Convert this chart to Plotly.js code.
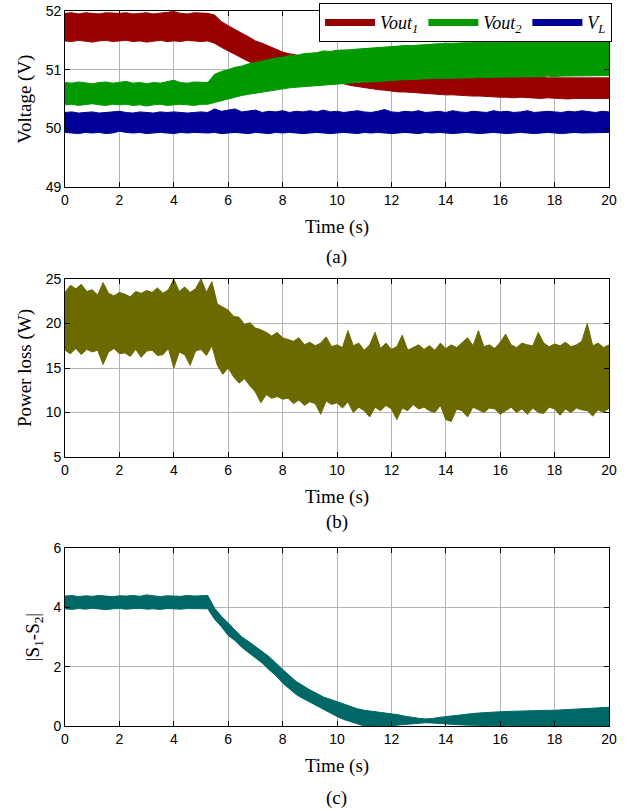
<!DOCTYPE html>
<html>
<head>
<meta charset="utf-8">
<script src="https://cdn.plot.ly/plotly-3.0.1.min.js"></script>
<style>html,body{margin:0;padding:0;background:#fff;}#chart{width:633px;height:809px;}</style>
</head>
<body>
<div id="chart"></div>
<script>
// ---- time grids (s) ----
const tA = [0,0.25,0.5,0.75,1,1.25,1.5,1.75,2,2.25,2.5,2.75,3,3.25,3.5,3.75,4,4.25,4.5,4.75,5,5.25,5.5,5.75,6,6.25,6.5,6.75,7,7.25,7.5,7.75,8,8.25,8.5,8.75,9,9.25,9.5,9.75,10,10.25,10.5,10.75,11,11.25,11.5,11.75,12,12.25,12.5,12.75,13,13.25,13.5,13.75,14,14.25,14.5,14.75,15,15.25,15.5,15.75,16,16.25,16.5,16.75,17,17.25,17.5,17.75,18,18.25,18.5,18.75,19,19.25,19.5,19.75,20];
const tB = [0,0.2,0.4,0.6,0.8,1,1.2,1.4,1.6,1.8,2,2.2,2.4,2.6,2.8,3,3.2,3.4,3.6,3.8,4,4.2,4.4,4.6,4.8,5,5.2,5.4,5.6,5.8,6,6.2,6.4,6.6,6.8,7,7.2,7.4,7.6,7.8,8,8.2,8.4,8.6,8.8,9,9.2,9.4,9.6,9.8,10,10.2,10.4,10.6,10.8,11,11.2,11.4,11.6,11.8,12,12.2,12.4,12.6,12.8,13,13.2,13.4,13.6,13.8,14,14.2,14.4,14.6,14.8,15,15.2,15.4,15.6,15.8,16,16.2,16.4,16.6,16.8,17,17.2,17.4,17.6,17.8,18,18.2,18.4,18.6,18.8,19,19.2,19.4,19.6,19.8,20];

// ---- (a) Voltage envelopes (V), upper / lower edge of each noisy band ----
const vout1Upper = [51.96,51.97,51.95,51.97,51.96,51.95,51.97,51.96,51.96,51.97,51.95,51.96,51.97,51.95,51.96,51.97,51.99,51.96,51.95,51.97,51.96,51.96,51.93,51.82,51.75,51.68,51.62,51.56,51.49,51.45,51.4,51.35,51.3,51.27,51.25,51.22,51.2,51.18,51.17,51.15,51.13,51.1,51.09,51.08,51.06,51.05,51.03,51.02,51.0,50.99,50.97,50.96,50.95,50.94,50.93,50.92,50.92,50.91,50.9,50.9,50.89,50.89,50.88,50.88,50.88,50.88,50.88,50.87,50.87,50.87,50.87,50.86,50.86,50.86,50.86,50.86,50.86,50.86,50.86,50.86,50.86];
const vout1Lower = [51.49,51.48,51.5,51.49,51.47,51.49,51.5,51.48,51.49,51.5,51.48,51.49,51.47,51.49,51.5,51.48,51.49,51.48,51.5,51.49,51.48,51.49,51.45,51.38,51.32,51.25,51.2,51.14,51.09,51.07,51.04,51.0,50.96,50.93,50.9,50.88,50.86,50.85,50.83,50.81,50.79,50.76,50.73,50.71,50.69,50.68,50.66,50.65,50.63,50.62,50.62,50.61,50.6,50.6,50.59,50.58,50.57,50.57,50.56,50.56,50.55,50.55,50.54,50.54,50.53,50.53,50.52,50.53,50.52,50.52,50.51,50.52,50.51,50.51,50.5,50.51,50.51,50.5,50.51,50.51,50.51];
const vout2Upper = [50.78,50.77,50.79,50.78,50.76,50.78,50.79,50.77,50.78,50.8,50.77,50.78,50.76,50.78,50.77,50.79,50.82,50.78,50.77,50.79,50.78,50.78,50.92,50.97,51.0,51.04,51.06,51.1,51.12,51.15,51.17,51.2,51.21,51.24,51.24,51.27,51.28,51.29,51.32,51.31,51.33,51.33,51.34,51.35,51.36,51.37,51.38,51.38,51.39,51.4,51.41,51.41,51.42,51.43,51.44,51.44,51.45,51.45,51.46,51.46,51.46,51.47,51.46,51.47,51.47,51.47,51.48,51.47,51.47,51.48,51.47,51.48,51.47,51.48,51.47,51.47,51.48,51.47,51.47,51.47,51.47];
const vout2Lower = [50.4,50.41,50.39,50.4,50.42,50.4,50.39,50.41,50.4,50.41,50.39,50.4,50.38,50.4,50.41,50.39,50.4,50.41,50.4,50.39,50.41,50.41,50.44,50.47,50.51,50.54,50.56,50.58,50.6,50.62,50.64,50.66,50.67,50.69,50.7,50.71,50.72,50.73,50.74,50.75,50.76,50.76,50.77,50.78,50.79,50.79,50.8,50.81,50.82,50.82,50.83,50.83,50.84,50.84,50.85,50.85,50.85,50.86,50.86,50.86,50.86,50.87,50.86,50.87,50.87,50.87,50.88,50.87,50.88,50.88,50.88,50.89,50.88,50.89,50.89,50.89,50.9,50.89,50.9,50.9,50.9];
const vlUpper = [50.27,50.28,50.26,50.27,50.28,50.26,50.27,50.28,50.29,50.27,50.26,50.28,50.27,50.26,50.28,50.27,50.28,50.27,50.26,50.27,50.28,50.27,50.33,50.29,50.31,50.33,50.28,50.3,50.31,50.27,50.29,50.28,50.3,50.27,50.29,50.28,50.3,50.28,50.31,50.28,50.29,50.27,50.28,50.3,50.28,50.27,50.29,50.32,50.28,50.27,50.29,50.28,50.3,50.27,50.28,50.29,50.27,50.3,50.28,50.27,50.29,50.28,50.27,50.3,50.28,50.29,50.27,50.28,50.3,50.27,50.28,50.29,50.28,50.27,50.29,50.28,50.3,50.28,50.27,50.29,50.28];
const vlLower = [49.93,49.92,49.91,49.93,49.92,49.93,49.91,49.92,49.95,49.93,49.92,49.93,49.91,49.92,49.93,49.92,49.91,49.93,49.92,49.93,49.92,49.92,49.93,49.91,49.92,49.93,49.92,49.91,49.93,49.92,49.91,49.93,49.92,49.93,49.92,49.91,49.92,49.93,49.92,49.91,49.92,49.93,49.92,49.91,49.93,49.92,49.93,49.92,49.91,49.92,49.93,49.92,49.91,49.93,49.92,49.93,49.92,49.91,49.92,49.93,49.92,49.91,49.92,49.93,49.92,49.91,49.92,49.93,49.92,49.91,49.92,49.93,49.92,49.91,49.92,49.93,49.92,49.92,49.93,49.92,49.93];

// ---- (b) Power loss envelope (W) ----
const lossUpper = [23.5,24.3,23.9,24.4,23.6,23.8, 23.2,24.6,23.4,23.1,23.5, 23.3,23.0,23.6,23.4,23.7, 23.5,24.0,23.4,23.8,25.0, 23.6,24.1,23.5,23.9,25.0, 23.5,24.7,22.2,21.8,21.5, 20.8,20.7,19.9,20.1,19.5, 19.3,19.0,18.6,19.0,18.4, 18.2,18.0,18.4,17.6,17.9, 17.5,17.8,18.5,17.4,17.6, 17.3,19.2,17.5,17.8,17.0, 17.6,19.0,17.2,17.8,17.1, 17.4,18.7,17.0,17.3,17.6, 17.1,17.5,17.0,17.8,17.2, 17.6,17.3,17.8,18.4,17.5, 19.2,17.4,17.6,17.2,17.9, 18.8,17.6,17.3,17.8,17.6, 17.5,19.0,17.8,17.4,17.7, 17.5,17.9,17.4,17.6,18.0, 20.0,17.5,17.8,17.3,17.6];
const lossLower = [17.0,16.6,17.2,16.5,17.1,16.8, 17.0,15.4,16.8,17.2,16.6, 16.7,16.3,17.1,16.2,16.9, 17.0,16.4,16.5,17.2,15.0, 16.8,16.5,15.3,16.9,17.1, 16.4,17.5,15.3,14.3,15.0, 14.0,13.3,13.8,13.0,12.3, 11.1,12.0,11.6,11.8,11.5, 11.6,11.0,11.4,10.8,11.2, 11.0,9.8,11.3,10.9,11.1, 10.5,11.2,10.0,10.6,10.2, 9.5,10.6,10.2,10.8,10.4, 9.2,10.5,10.2,10.9,10.4, 10.6,10.2,10.0,10.8,9.2, 9.0,10.4,10.2,9.5,10.6, 10.3,10.0,10.5,10.4,9.8, 10.2,10.6,10.0,10.4,9.8, 10.5,10.0,9.9,10.6,10.4, 9.7,10.4,10.0,10.5,10.3, 10.2,9.6,10.3,10.0,10.5];

// ---- (c) |S1-S2| envelope ----
const sdiffUpper = [4.38,4.4,4.36,4.39,4.37,4.4,4.38,4.36,4.39,4.38,4.4,4.37,4.42,4.38,4.36,4.39,4.38,4.37,4.4,4.38,4.39,4.4,3.97,3.7,3.47,3.25,3.0,2.85,2.67,2.52,2.34,2.12,1.9,1.7,1.5,1.35,1.22,1.1,0.98,0.9,0.82,0.73,0.65,0.58,0.53,0.5,0.46,0.44,0.42,0.38,0.33,0.29,0.26,0.24,0.25,0.29,0.32,0.35,0.38,0.4,0.42,0.44,0.46,0.47,0.48,0.49,0.5,0.5,0.51,0.52,0.52,0.53,0.53,0.54,0.55,0.56,0.57,0.58,0.6,0.62,0.63];
const sdiffLower = [3.95,3.93,3.96,3.94,3.97,3.95,3.92,3.95,3.96,3.94,3.95,3.97,3.94,3.95,3.93,3.96,3.95,3.94,3.96,3.95,3.94,3.95,3.6,3.35,3.05,2.88,2.65,2.47,2.28,2.12,1.9,1.7,1.45,1.25,1.06,0.93,0.81,0.68,0.55,0.43,0.32,0.22,0.14,0.06,0,0,0,0,0.01,0.03,0.05,0.08,0.1,0.11,0.1,0.08,0.06,0.05,0.04,0.03,0.02,0.02,0.01,0.01,0.01,0,0,0,0,0,0,0,0,0,0,0,0,0,0,0,0];

const seriesNames = ['<i>Vout</i><sub><i>1</i></sub>', '<i>Vout</i><sub><i>2</i></sub>', '<i>V</i><sub><i>L</i></sub>'];
const colRed = '#990000', colGreen = '#009900', colBlue = '#000099', colOlive = '#6b6a00', colTeal = '#006767';

function band(x, lo, hi, color, xa, ya) {
  return [
    {x: x, y: lo, xaxis: xa, yaxis: ya, mode: 'lines', line: {color: color, width: 1}, showlegend: false, hoverinfo: 'skip'},
    {x: x, y: hi, xaxis: xa, yaxis: ya, mode: 'lines', line: {color: color, width: 1}, fill: 'tonexty', fillcolor: color, showlegend: false, hoverinfo: 'skip'}
  ];
}

const data = [].concat(
  band(tA, vout1Lower, vout1Upper, colRed, 'x', 'y'),
  band(tA, vout2Lower, vout2Upper, colGreen, 'x', 'y'),
  band(tA, vlLower, vlUpper, colBlue, 'x', 'y'),
  band(tB, lossLower, lossUpper, colOlive, 'x2', 'y2'),
  band(tA, sdiffLower, sdiffUpper, colTeal, 'x3', 'y3'),
  [
    {x: [null], y: [null], xaxis: 'x', yaxis: 'y', mode: 'lines', name: seriesNames[0], line: {color: colRed, width: 7}},
    {x: [null], y: [null], xaxis: 'x', yaxis: 'y', mode: 'lines', name: seriesNames[1], line: {color: colGreen, width: 7}},
    {x: [null], y: [null], xaxis: 'x', yaxis: 'y', mode: 'lines', name: seriesNames[2], line: {color: colBlue, width: 7}}
  ]
);

const SANS = '"Liberation Sans", Arial, Helvetica, sans-serif';
const SERIF = '"Liberation Serif", "Times New Roman", Times, serif';
const tickFont = {family: SANS, size: 14, color: '#000'};
const titleFont = {family: SERIF, size: 19, color: '#000'};

function xax(anchor) {
  return {
    domain: [0.1027, 0.9621], anchor: anchor, range: [0, 20], tickvals: [0,2,4,6,8,10,12,14,16,18,20],
    showline: true, linecolor: '#000', linewidth: 1, mirror: 'ticks', ticks: 'inside', ticklen: 5, tickcolor: '#000',
    showgrid: true, gridcolor: '#b4b4b4', gridwidth: 1, zeroline: false, tickfont: tickFont,
    title: {text: 'Time (s)', font: titleFont, standoff: 12}
  };
}
function yax(anchor, dom, range, dtick, title) {
  return {
    domain: dom, anchor: anchor, range: range, dtick: dtick, tick0: range[0],
    showline: true, linecolor: '#000', linewidth: 1, mirror: 'ticks', ticks: 'inside', ticklen: 5, tickcolor: '#000',
    showgrid: true, gridcolor: '#b4b4b4', gridwidth: 1, zeroline: false, tickfont: tickFont,
    title: {text: title, font: titleFont, standoff: 8}
  };
}

const layout = {
  width: 633, height: 809,
  margin: {l: 0, r: 0, t: 0, b: 0},
  paper_bgcolor: '#fff', plot_bgcolor: '#fff',
  font: {family: SANS, color: '#000'},
  showlegend: true,
  legend: {
    x: 0.504, y: 0.996, xanchor: 'left', yanchor: 'top', orientation: 'h', traceorder: 'normal',
    bgcolor: '#fff', bordercolor: '#000', borderwidth: 1,
    font: {family: SERIF, size: 18, color: '#000'},
    itemwidth: 50, tracegroupgap: 0
  },
  xaxis: xax('y'), xaxis2: xax('y2'), xaxis3: xax('y3'),
  yaxis: yax('x', [0.7689, 0.9864], [49, 52], 1, 'Voltage (V)'),
  yaxis2: yax('x2', [0.4351, 0.6551], [5, 25], 5, 'Power loss (W)'),
  yaxis3: yax('x3', [0.1026, 0.3226], [0, 6], 2, '|S<sub>1</sub>-S<sub>2</sub>|'),
  annotations: [
    {text: '(a)', xref: 'paper', yref: 'paper', x: 0.532, y: 0.6823, showarrow: false, font: titleFont, xanchor: 'center', yanchor: 'middle'},
    {text: '(b)', xref: 'paper', yref: 'paper', x: 0.532, y: 0.3548, showarrow: false, font: titleFont, xanchor: 'center', yanchor: 'middle'},
    {text: '(c)', xref: 'paper', yref: 'paper', x: 0.532, y: 0.0136, showarrow: false, font: titleFont, xanchor: 'center', yanchor: 'middle'}
  ]
};

Plotly.newPlot('chart', data, layout, {displayModeBar: false, staticPlot: true});
</script>
</body>
</html>
